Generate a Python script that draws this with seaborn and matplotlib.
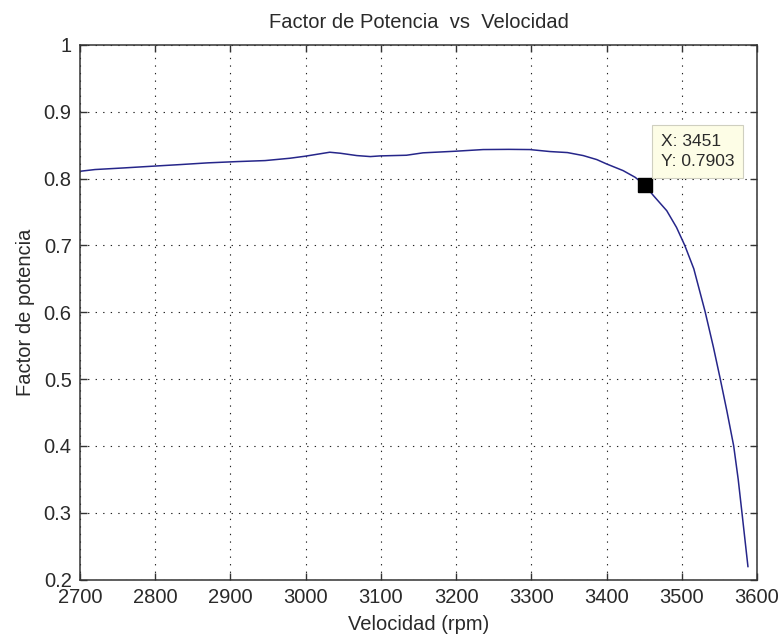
import matplotlib
matplotlib.use("Agg")
import matplotlib.pyplot as plt
import seaborn as sns
import pandas as pd

# Motor speed (rpm) and measured power factor
velocidad = [2700, 2720, 2758, 2795, 2833, 2870, 2909, 2946, 2979, 2999,
             3032, 3046, 3068, 3086, 3099, 3134, 3156, 3199, 3236, 3270,
             3298, 3325, 3348, 3369, 3387, 3400, 3422, 3438, 3451, 3462,
             3480, 3493, 3504, 3516, 3531, 3542, 3551, 3560, 3569, 3575,
             3580, 3588]
factor = [0.811, 0.8136, 0.816, 0.8185, 0.821, 0.8236, 0.8255, 0.827, 0.8305, 0.8335,
          0.8395, 0.838, 0.8345, 0.833, 0.834, 0.835, 0.8386, 0.841, 0.8435, 0.8438,
          0.8435, 0.8405, 0.839, 0.8345, 0.8285, 0.822, 0.812, 0.802, 0.7903, 0.775,
          0.752, 0.727, 0.700, 0.665, 0.601, 0.548, 0.501, 0.452, 0.400, 0.350,
          0.300, 0.219]

# Highlighted data tip
tip_x = 3451
tip_y = 0.7903

x_ticks = [2700, 2800, 2900, 3000, 3100, 3200, 3300, 3400, 3500, 3600]
y_ticks = [0.2, 0.3, 0.4, 0.5, 0.6, 0.7, 0.8, 0.9, 1.0]
y_tick_labels = ["0.2", "0.3", "0.4", "0.5", "0.6", "0.7", "0.8", "0.9", "1"]

sns.set_style("white")
plt.rcParams["font.family"] = ["Liberation Sans", "DejaVu Sans"]

df = pd.DataFrame({"Velocidad": velocidad, "Factor": factor})

fig = plt.figure(figsize=(7.81, 6.37), dpi=100)
ax = fig.add_axes([80 / 781, 1 - 579.5 / 637, 677 / 781, 534.5 / 637])

sns.lineplot(data=df, x="Velocidad", y="Factor", ax=ax, color="#26268a",
             linewidth=1.1, sort=False)

ax.set_xlim(2700, 3600)
ax.set_ylim(0.2, 1.0)
ax.set_xticks(x_ticks)
ax.set_xticklabels([str(t) for t in x_ticks])
ax.set_yticks(y_ticks)
ax.set_yticklabels(y_tick_labels)

ax.grid(True, color="#222222", linestyle=(0, (1.2, 5.6)), linewidth=0.8)
ax.set_axisbelow(True)
ax.tick_params(axis="both", direction="in", length=5, width=1.0,
               color="#333333", labelsize=14.5, labelcolor="#2a2a2a",
               top=True, right=True, bottom=True, left=True, pad=6)
for s in ax.spines.values():
    s.set_visible(True)
    s.set_color("#333333")
    s.set_linewidth(1.1)

ax.set_title("Factor de Potencia  vs  Velocidad", fontsize=14.5,
             color="#2a2a2a", pad=12)
ax.set_xlabel("Velocidad (rpm)", fontsize=14.5, color="#2a2a2a", labelpad=6)
ax.set_ylabel("Factor de potencia", fontsize=14.5, color="#2a2a2a", labelpad=6)

# Data tip marker and label
ax.plot([tip_x], [tip_y], marker="s", markersize=9.5, color="black",
        linestyle="none", zorder=5)
ax.annotate(f"X: {tip_x}\nY: {tip_y:.4f}", xy=(tip_x, tip_y),
            xytext=(16, 16), textcoords="offset pixels",
            ha="left", va="bottom", fontsize=12.5, color="#2a2a2a",
            linespacing=1.45,
            bbox=dict(boxstyle="square,pad=0.5", facecolor="#fdfde6",
                      edgecolor="#cfcfc0", linewidth=0.8),
            zorder=6)

fig.savefig("out.png", dpi=100, facecolor="white")
